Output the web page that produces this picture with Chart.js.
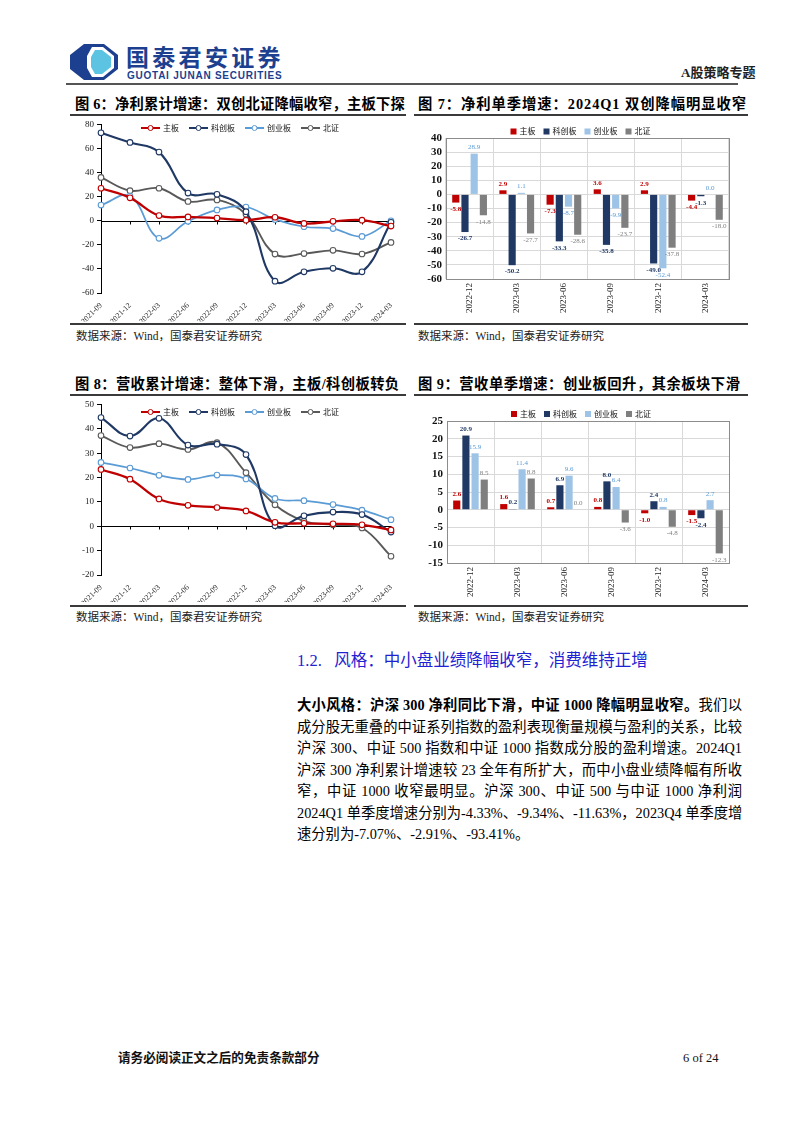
<!DOCTYPE html>
<html>
<head>
<meta charset="utf-8">
<script src="https://cdn.jsdelivr.net/npm/chart.js@4.4.0/dist/chart.umd.min.js"></script>
<style>
body{margin:0;background:#fff;width:802px;height:1133px;position:relative;overflow:hidden;
  font-family:"Liberation Serif","Noto Sans CJK SC",serif;color:#000}
.abs{position:absolute}
.title{position:absolute;font-weight:bold;font-size:14.3px;line-height:18px;white-space:nowrap;letter-spacing:0.2px}
.rule{position:absolute;height:2px;background:#3a3a3a}
.src{position:absolute;font-size:11.5px;line-height:14px;color:#222;white-space:nowrap}
.para div{height:21.5px;line-height:21.5px;text-align:justify;text-align-last:justify;white-space:nowrap}
</style>
</head>
<body>

<!-- header -->
<svg class="abs" style="left:70px;top:44px" width="48" height="36" viewBox="0 0 48 36">
  <path d="M14 0 L34 0 L48 11 L48 25 L34 36 L14 36 L0 25 L0 11 Z" fill="#1c3f8f"/>
  <path d="M22 3 L33 3 L44 12 L44 24 L33 33 L22 33 L17 24 L17 12 Z" fill="#fff"/>
  <path d="M25 6 L32 6 L41 13 L41 23 L32 30 L25 30 L21 23 L21 13 Z" fill="#5cc3e3"/>
</svg>
<div class="abs" style="left:126px;top:44px;font-family:'Noto Sans CJK SC';font-weight:bold;font-size:23px;line-height:24px;color:#1c3f8f;letter-spacing:3.3px">国泰君安证券</div>
<div class="abs" style="left:127px;top:70px;font-family:'Liberation Sans';font-weight:bold;font-size:10px;line-height:11px;color:#1c3f8f;letter-spacing:0.75px">GUOTAI JUNAN SECURITIES</div>
<div class="abs" style="left:681px;top:65px;font-weight:bold;font-size:13px;line-height:16px;color:#222">A股策略专题</div>
<div class="rule" style="left:66px;top:83px;width:672px;background:#555"></div>

<!-- figure titles row 1 -->
<div class="title" style="left:75px;top:95px">图 6：净利累计增速：双创北证降幅收窄，主板下探</div>
<div class="title" style="left:418px;top:95px;letter-spacing:0.95px">图 7：净利单季增速：2024Q1 双创降幅明显收窄</div>
<div class="rule" style="left:70px;top:114px;width:336px"></div>
<div class="rule" style="left:414px;top:114px;width:334px"></div>

<div class="abs" style="left:60px;top:116px;width:345px;height:206px"><canvas id="c6"></canvas></div>
<div class="abs" style="left:413px;top:118px;width:335px;height:200px"><canvas id="c7"></canvas></div>

<div class="rule" style="left:70px;top:323px;width:336px"></div>
<div class="rule" style="left:414px;top:323px;width:334px"></div>
<div class="src" style="left:76px;top:329px">数据来源：Wind，国泰君安证券研究</div>
<div class="src" style="left:418px;top:329px">数据来源：Wind，国泰君安证券研究</div>

<!-- figure titles row 2 -->
<div class="title" style="left:75px;top:375px;letter-spacing:0.4px">图 8：营收累计增速：整体下滑，主板/科创板转负</div>
<div class="title" style="left:418px;top:375px;letter-spacing:0.5px">图 9：营收单季增速：创业板回升，其余板块下滑</div>
<div class="rule" style="left:70px;top:394px;width:336px"></div>
<div class="rule" style="left:414px;top:394px;width:334px"></div>

<div class="abs" style="left:60px;top:396px;width:345px;height:206px"><canvas id="c8"></canvas></div>
<div class="abs" style="left:413px;top:400px;width:335px;height:200px"><canvas id="c9"></canvas></div>

<div class="rule" style="left:70px;top:605px;width:336px"></div>
<div class="rule" style="left:414px;top:605px;width:334px"></div>
<div class="src" style="left:76px;top:610px">数据来源：Wind，国泰君安证券研究</div>
<div class="src" style="left:418px;top:610px">数据来源：Wind，国泰君安证券研究</div>

<!-- section text -->
<div class="abs" style="left:297px;top:651px;font-size:16.5px;line-height:20px;color:#1f22d2;white-space:nowrap">1.2.&nbsp;&nbsp;&nbsp;风格：中小盘业绩降幅收窄，消费维持正增</div>
<div class="abs para" style="left:297px;top:695px;width:445px;font-size:14.3px">
  <div><b>大小风格：沪深 300 净利同比下滑，中证 1000 降幅明显收窄。</b>我们以</div>
  <div>成分股无重叠的中证系列指数的盈利表现衡量规模与盈利的关系，比较</div>
  <div>沪深 300、中证 500 指数和中证 1000 指数成分股的盈利增速。2024Q1</div>
  <div>沪深 300 净利累计增速较 23 全年有所扩大，而中小盘业绩降幅有所收</div>
  <div>窄，中证 1000 收窄最明显。沪深 300、中证 500 与中证 1000 净利润</div>
  <div>2024Q1 单季度增速分别为-4.33%、-9.34%、-11.63%，2023Q4 单季度增</div>
  <div style="text-align-last:left">速分别为-7.07%、-2.91%、-93.41%。</div>
</div>

<!-- footer -->
<div class="abs" style="left:118px;top:1050px;font-weight:bold;font-size:12.6px;line-height:16px;color:#111">请务必阅读正文之后的免责条款部分</div>
<div class="abs" style="left:683px;top:1050px;font-size:12.5px;line-height:16px;color:#111">6 of 24</div>

<script>
const quarters = ['2021-09','2021-12','2022-03','2022-06','2022-09','2022-12','2023-03','2023-06','2023-09','2023-12','2024-03'];
const recentQuarters = ['2022-12','2023-03','2023-06','2023-09','2023-12','2024-03'];
const boards = ['主板','科创板','创业板','北证'];

// 图6 净利累计增速
const profitCumMain    = [27, 19, 4.3, 3.2, 2.2, 0.5, 2.9, -2.2, -0.5, 0.5, -4.4];
const profitCumStar    = [73, 65, 57, 23, 22, 7.5, -50.2, -42.4, -39.5, -42.4, -1.3];
const profitCumChiNext = [13, 20.5, -14.6, -0.5, 9, 11.4, 1.1, -5, -6.5, -13, 0];
const profitCumBSE     = [36, 25, 27, 16, 17.3, 5.4, -27.7, -27.3, -24.6, -27.6, -18];

// 图7 净利单季增速
const profitQMain    = [-5.8, 2.9, -7.3, 3.6, 2.9, -4.4];
const profitQStar    = [-26.7, -50.2, -33.3, -35.8, -49.0, -1.3];
const profitQChiNext = [28.9, 1.1, -8.7, -9.9, -52.4, 0.0];
const profitQBSE     = [-14.8, -27.7, -28.6, -23.7, -37.8, -18.0];

// 图8 营收累计增速
const revCumMain    = [23.3, 19.3, 11.2, 8.6, 7.7, 6.3, 1.6, 1.2, 1.0, 0.6, -1.5];
const revCumStar    = [44.6, 37, 44.3, 33.3, 33.7, 29.4, 0.2, 4.3, 5.8, 4.8, -2.4];
const revCumChiNext = [26.2, 23.9, 20.9, 19.2, 21, 19.4, 11.4, 10.5, 8.9, 6.6, 2.7];
const revCumBSE     = [37.2, 32.3, 33.9, 31.5, 34.3, 22, 8.8, 2.1, 0.6, -0.7, -12.3];

// 图9 营收单季增速
const revQMain    = [2.6, 1.6, 0.7, 0.8, -1.0, -1.5];
const revQStar    = [20.9, 0.2, 6.9, 8.0, 2.4, -2.4];
const revQChiNext = [15.9, 11.4, 9.6, 6.4, 0.8, 2.7];
const revQBSE     = [8.5, 8.8, 0.0, -3.6, -4.8, -12.3];

const FONT = '"Liberation Serif","Noto Sans CJK SC",serif';
const lineColors = ['#c00000', '#1f3864', '#5b9bd5', '#595959'];
const lineWidths = [2.3, 2.1, 1.7, 1.9];
const barColors = ['#c00000', '#1f3864', '#9dc3e6', '#7f7f7f'];
const barLabelColors = ['#c00000', '#1f3864', '#5b9bd5', '#7f7f7f'];

// legend drawn inside / above the plot
const legendIn = {
  id: 'legendIn',
  afterDraw(chart, args, o) {
    const ctx = chart.ctx;
    ctx.save();
    ctx.font = o.size + 'px ' + FONT;
    const items = chart.data.datasets.map(d => ({
      text: d.label, color: d.swatch,
      w: o.sw + o.gap + ctx.measureText(d.label).width
    }));
    const total = items.reduce((a, b) => a + b.w, 0) + o.space * (items.length - 1);
    let x = (chart.chartArea.left + chart.chartArea.right) / 2 + o.dx - total / 2;
    const y = o.y;
    items.forEach(it => {
      if (o.kind === 'line') {
        ctx.strokeStyle = it.color; ctx.lineWidth = 2;
        ctx.beginPath(); ctx.moveTo(x, y); ctx.lineTo(x + o.sw, y); ctx.stroke();
        ctx.fillStyle = '#fff'; ctx.lineWidth = 1;
        ctx.beginPath(); ctx.arc(x + o.sw / 2, y, 2.5, 0, Math.PI * 2); ctx.fill(); ctx.stroke();
      } else {
        ctx.fillStyle = it.color;
        ctx.fillRect(x, y - 3, 6, 6);
      }
      ctx.fillStyle = '#111'; ctx.textBaseline = 'middle'; ctx.textAlign = 'left';
      ctx.fillText(it.text, x + o.sw + o.gap, y + 0.5);
      x += it.w + o.space;
    });
    ctx.restore();
  }
};

// zero axis with ticks for the line charts
const zeroAxis = {
  id: 'zeroAxis',
  beforeDatasetsDraw(chart) {
    const ctx = chart.ctx, a = chart.chartArea;
    const y = Math.round(chart.scales.y.getPixelForValue(0)) + 0.5;
    ctx.save();
    ctx.strokeStyle = '#000'; ctx.lineWidth = 1;
    ctx.beginPath(); ctx.moveTo(a.left, y); ctx.lineTo(a.right, y);
    chart.scales.x.ticks.forEach((t, i) => {
      const x = Math.round(chart.scales.x.getPixelForTick(i)) + 0.5;
      ctx.moveTo(x, y); ctx.lineTo(x, y + 3);
    });
    ctx.stroke();
    ctx.restore();
  }
};

const frame = {
  id: 'frame',
  afterDatasetsDraw(chart) {
    const ctx = chart.ctx, a = chart.chartArea;
    ctx.save();
    ctx.strokeStyle = '#8c8c8c'; ctx.lineWidth = 1;
    ctx.strokeRect(Math.round(a.left) + 0.5, Math.round(a.top) + 0.5,
      Math.round(a.right - a.left), Math.round(a.bottom - a.top));
    ctx.restore();
  }
};

const barLabels = {
  id: 'barLabels',
  afterDatasetsDraw(chart) {
    const ctx = chart.ctx;
    ctx.save();
    ctx.textAlign = 'center';
    chart.data.datasets.forEach((ds, i) => {
      const meta = chart.getDatasetMeta(i);
      ctx.font = (i < 2 ? 'bold ' : '') + '7px ' + FONT;
      ctx.fillStyle = barLabelColors[i];
      meta.data.forEach((el, j) => {
        const v = ds.data[j];
        const txt = v.toFixed(1);
        if (v >= 0) { ctx.textBaseline = 'bottom'; ctx.fillText(txt, el.x, el.y - 3); }
        else { ctx.textBaseline = 'top'; ctx.fillText(txt, el.x, el.y + 3); }
      });
    });
    ctx.restore();
  }
};

function lineChart(id, series, yMin, yMax, step, padTop, xH, legendY) {
  new Chart(document.getElementById(id), {
    type: 'line',
    data: {
      labels: quarters,
      datasets: series.map((d, i) => ({
        label: boards[i], data: d, swatch: lineColors[i],
        borderColor: lineColors[i], borderWidth: lineWidths[i],
        pointBackgroundColor: '#fff', pointBorderColor: lineColors[i],
        pointBorderWidth: 1.1, pointRadius: 2.8, tension: 0.4, fill: false
      }))
    },
    options: {
      responsive: true, maintainAspectRatio: false, animation: false,
      layout: { padding: { top: padTop, right: 14, left: 0, bottom: 0 } },
      plugins: {
        legend: { display: false }, tooltip: { enabled: false },
        legendIn: { kind: 'line', y: legendY, size: 8, sw: 19, gap: 3, space: 10, dx: -6 }
      },
      scales: {
        x: {
          offset: false,
          grid: { display: false }, border: { display: false },
          ticks: { minRotation: 45, maxRotation: 45, autoSkip: false, padding: 0,
                   font: { family: FONT, size: 7.8 }, color: '#222' },
          afterFit(s) { s.height = xH; }
        },
        y: {
          min: yMin, max: yMax,
          ticks: { stepSize: step, autoSkip: false, padding: 3, font: { family: FONT, size: 9 }, color: '#222' },
          grid: { drawOnChartArea: false, drawTicks: true, tickLength: 4, color: '#000' },
          border: { color: '#000', width: 1 },
          afterFit(s) { s.width = 41; }
        }
      }
    },
    plugins: [zeroAxis, legendIn]
  });
}

function barChart(id, series, yMin, yMax, step, padTop, xH, yW, legendY) {
  new Chart(document.getElementById(id), {
    type: 'bar',
    data: {
      labels: recentQuarters,
      datasets: series.map((d, i) => ({
        label: boards[i], data: d, swatch: barColors[i],
        backgroundColor: barColors[i],
        categoryPercentage: 0.78, barPercentage: 0.78
      }))
    },
    options: {
      responsive: true, maintainAspectRatio: false, animation: false,
      layout: { padding: { top: padTop, right: 19, left: 0, bottom: 0 } },
      plugins: {
        legend: { display: false }, tooltip: { enabled: false },
        legendIn: { kind: 'box', y: legendY, size: 8, sw: 6, gap: 3, space: 8, dx: -7 }
      },
      scales: {
        x: {
          grid: { offset: true, color: '#d9d9d9', drawTicks: false },
          border: { display: false },
          ticks: { minRotation: 90, maxRotation: 90, padding: 4,
                   font: { family: FONT, size: 9 }, color: '#222' },
          afterFit(s) { s.height = xH; }
        },
        y: {
          min: yMin, max: yMax,
          ticks: { stepSize: step, autoSkip: false, padding: 4,
                   font: { family: FONT, size: 11, weight: 'bold' }, color: '#111' },
          grid: { color: '#d9d9d9', drawTicks: false },
          border: { display: false },
          afterFit(s) { s.width = yW; }
        }
      }
    },
    plugins: [frame, barLabels, legendIn]
  });
}

lineChart('c6', [profitCumMain, profitCumStar, profitCumChiNext, profitCumBSE], -60, 80, 20, 5, 29, 12);
barChart('c7', [profitQMain, profitQStar, profitQChiNext, profitQBSE], -60, 40, 10, 20, 39, 33, 13.5);
lineChart('c8', [revCumMain, revCumStar, revCumChiNext, revCumBSE], -20, 50, 10, 7, 27, 16);
barChart('c9', [revQMain, revQStar, revQChiNext, revQBSE], -15, 25, 5, 21, 37, 34, 14);
</script>
</body>
</html>
